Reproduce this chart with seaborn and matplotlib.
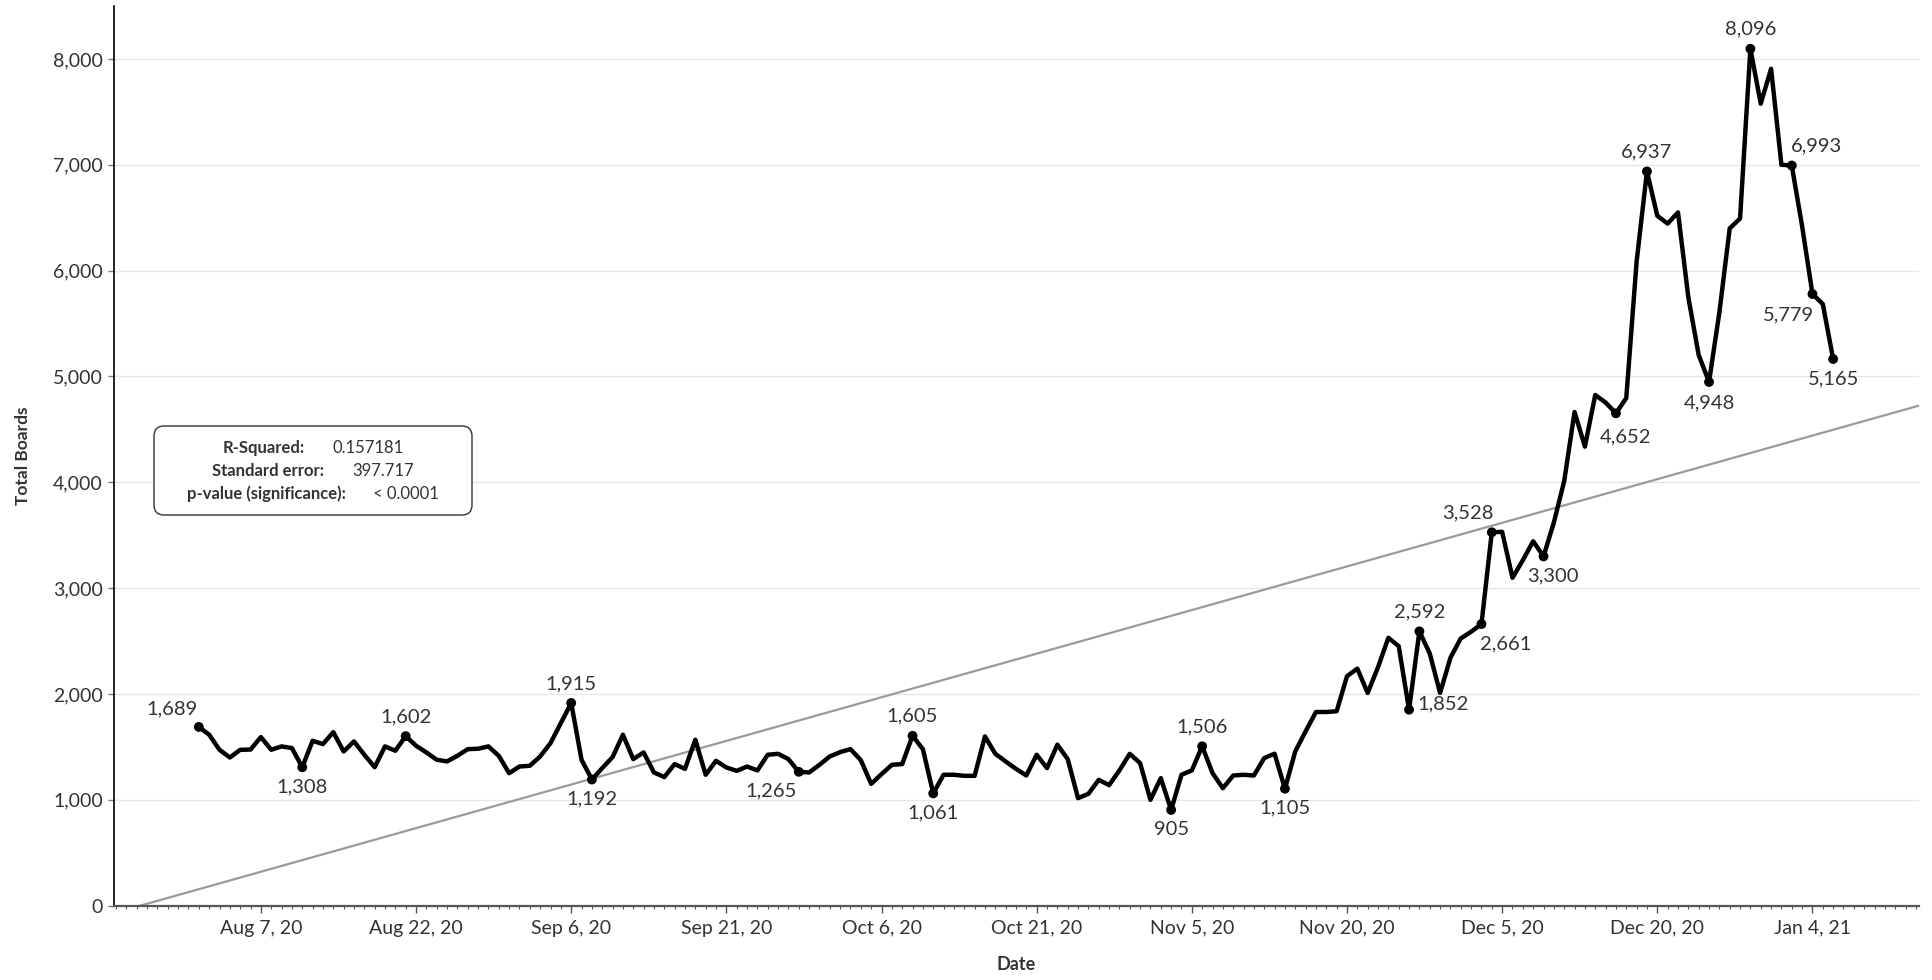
import numpy as np
import pandas as pd
import matplotlib
matplotlib.use("Agg")
import matplotlib.pyplot as plt
import matplotlib.dates as mdates
from matplotlib.patches import FancyBboxPatch
from matplotlib.ticker import FixedLocator, FuncFormatter
from matplotlib.offsetbox import TextArea, HPacker, VPacker, AnchoredOffsetbox
import seaborn as sns

# Datos diarios (1 ago 2020 -> 6 ene 2021)
start_date = "2020-08-01"
aug = [1689, 1615, 1473, 1400, 1473, 1475, 1593, 1473, 1505, 1489, 1308, 1558, 1527, 1640, 1457, 1552,
       1426, 1309, 1505, 1464, 1602, 1511, 1448, 1379, 1363, 1416, 1479, 1483, 1505, 1416, 1252]
sep = [1315, 1322, 1410, 1536, 1726, 1915, 1379, 1192, 1300, 1404, 1615, 1385, 1448, 1259, 1215, 1338,
       1293, 1568, 1237, 1369, 1306, 1274, 1315, 1278, 1426, 1435, 1385, 1265, 1259, 1331]
oct_ = [1410, 1451, 1479, 1375, 1151, 1243, 1331, 1338, 1605, 1479, 1061, 1237, 1237, 1227, 1227, 1599,
        1435, 1363, 1293, 1230, 1426, 1300, 1521, 1385, 1016, 1057, 1189, 1139, 1278, 1435, 1347]
nov = [1000, 1205, 905, 1237, 1278, 1506, 1253, 1110, 1230, 1237, 1230, 1395, 1436, 1105, 1458, 1647,
       1830, 1830, 1837, 2168, 2240, 2010, 2253, 2531, 2452, 1852, 2592, 2383, 2010, 2342]
dec = [2525, 2588, 2661, 3528, 3532, 3098, 3264, 3443, 3300, 3620, 4012, 4664, 4337, 4825, 4754, 4652,
       4796, 6085, 6937, 6518, 6444, 6550, 5748, 5203, 4948, 5604, 6399, 6492, 8096, 7577, 7907]
jan = [7000, 6993, 6420, 5779, 5684, 5165]
total_boards = aug + sep + oct_ + nov + dec + jan

# Fechas con etiqueta
labelled_dates = ["2020-08-01", "2020-08-11", "2020-08-21", "2020-09-06", "2020-09-08", "2020-09-28",
                  "2020-10-09", "2020-10-11", "2020-11-03", "2020-11-06", "2020-11-14", "2020-11-26",
                  "2020-11-27", "2020-12-03", "2020-12-04", "2020-12-09", "2020-12-16", "2020-12-19",
                  "2020-12-25", "2020-12-29", "2021-01-02", "2021-01-04", "2021-01-06"]

stats_names = ["R-Squared:", "Standard error:", "p-value (significance):"]
stats_values = ["0.157181", "397.717", "< 0.0001"]

# Posición de cada etiqueta (offset en puntos, alineación)
label_pos = {
    "2020-08-01": (-19, 13, "center"),
    "2020-08-11": (0, -14, "center"),
    "2020-08-21": (0, 14, "center"),
    "2020-09-06": (0, 14, "center"),
    "2020-09-08": (0, -14, "center"),
    "2020-09-28": (-20, -14, "center"),
    "2020-10-09": (0, 14, "center"),
    "2020-10-11": (0, -14, "center"),
    "2020-11-03": (0, -14, "center"),
    "2020-11-06": (0, 14, "center"),
    "2020-11-14": (0, -14, "center"),
    "2020-11-26": (6, 4, "left"),
    "2020-11-27": (0, 14, "center"),
    "2020-12-03": (-1, -14, "left"),
    "2020-12-04": (1, 14, "right"),
    "2020-12-09": (7, -14, "center"),
    "2020-12-16": (7, -17, "center"),
    "2020-12-19": (0, 14, "center"),
    "2020-12-25": (0, -15, "center"),
    "2020-12-29": (0, 14, "center"),
    "2021-01-02": (-1, 14, "left"),
    "2021-01-04": (1, -15, "right"),
    "2021-01-06": (0, -14, "center"),
}

df = pd.DataFrame({
    "Date": pd.date_range(start_date, periods=len(total_boards), freq="D"),
    "Total Boards": total_boards,
})
df["x"] = mdates.date2num(df["Date"])
lab = df[df["Date"].isin(pd.to_datetime(labelled_dates))]

sns.set_theme(style="white")
plt.rcParams["font.family"] = ["Lato", "DejaVu Sans"]

fig = plt.figure(figsize=(19.32, 9.8), dpi=100)
ax = fig.add_axes([114 / 1932, 1 - 905.7 / 980, 1805 / 1932, 899.7 / 980])

x0 = df["x"].iloc[0]
xlim = (x0 - 8.2, x0 + 166.3)
ax.set_xlim(xlim)
ax.set_ylim(0, 8500)

# Línea de tendencia
sns.regplot(data=df, x="x", y="Total Boards", scatter=False, ci=None, truncate=False,
            line_kws=dict(color="#9a9a9a", lw=1.6, zorder=2), ax=ax)

sns.lineplot(data=df, x="x", y="Total Boards", color="black", lw=3.2, zorder=3, ax=ax)
sns.scatterplot(data=lab, x="x", y="Total Boards", color="black", s=50, edgecolor="none",
                zorder=4, ax=ax)

for _, row in lab.iterrows():
    dx, dy, ha = label_pos[row["Date"].strftime("%Y-%m-%d")]
    ax.annotate(f"{row['Total Boards']:,}", (row["x"], row["Total Boards"]),
                xytext=(dx, dy), textcoords="offset points", ha=ha, va="center",
                fontsize=14.5, color="#333333", zorder=5)

ax.set_xlim(xlim)
ax.set_ylim(0, 8500)

# Ejes
major = mdates.date2num(pd.date_range("2020-08-07", periods=11, freq="15D"))
ax.xaxis.set_major_locator(FixedLocator(major))
ax.xaxis.set_major_formatter(FuncFormatter(
    lambda v, p: f"{mdates.num2date(v):%b} {mdates.num2date(v).day}, {mdates.num2date(v):%y}"))
ax.xaxis.set_minor_locator(mdates.DayLocator())
ax.yaxis.set_major_locator(FixedLocator(np.arange(0, 8001, 1000)))
ax.yaxis.set_major_formatter(FuncFormatter(lambda v, p: f"{v:,.0f}"))

ax.grid(axis="y", color="#e6e6e6", lw=1)
ax.grid(axis="x", visible=False)
ax.set_axisbelow(True)
for s in ["top", "right"]:
    ax.spines[s].set_visible(False)
ax.spines["left"].set_color("black")
ax.spines["left"].set_linewidth(1.2)
ax.spines["bottom"].set_color("#555555")
ax.spines["bottom"].set_linewidth(1.6)

ax.tick_params(axis="x", which="major", length=5, width=1, color="#555555",
               labelsize=14, labelcolor="#333333", pad=5, bottom=True)
ax.tick_params(axis="x", which="minor", length=2.5, width=0.8, color="#555555", bottom=True)
ax.tick_params(axis="y", which="major", length=4, width=1, color="#777777",
               labelsize=14, labelcolor="#333333", pad=4, left=True)

ax.set_xlabel("Date", fontsize=13, fontweight="bold", color="#333333")
ax.set_ylabel("Total Boards", fontsize=12.5, fontweight="bold", color="#333333")
ax.xaxis.set_label_coords(0.5, -(956 - 905.7) / 899.7)
ax.yaxis.set_label_coords((31 - 114) / 1805, 0.5)

# Cuadro de estadísticas
frame = FancyBboxPatch((1.54, (980 - 515) / 100), 3.18, 0.89,
                       boxstyle="round,pad=0,rounding_size=0.1",
                       transform=fig.dpi_scale_trans, facecolor="white",
                       edgecolor="#333333", lw=1.0, zorder=10)
fig.patches.append(frame)
rows = [HPacker(children=[TextArea(n, textprops=dict(fontsize=12, fontweight="bold", color="#333333")),
                          TextArea(v, textprops=dict(fontsize=12, color="#333333"))],
                sep=20, pad=0, align="baseline")
        for n, v in zip(stats_names, stats_values)]
stack = VPacker(children=rows, sep=5, pad=0, align="center")
box = AnchoredOffsetbox(loc="center", child=stack, frameon=False, pad=0, borderpad=0,
                        bbox_to_anchor=(3.13, (980 - 471) / 100),
                        bbox_transform=fig.dpi_scale_trans)
box.set_zorder(11)
fig.add_artist(box)

fig.savefig("out.png", dpi=100)
